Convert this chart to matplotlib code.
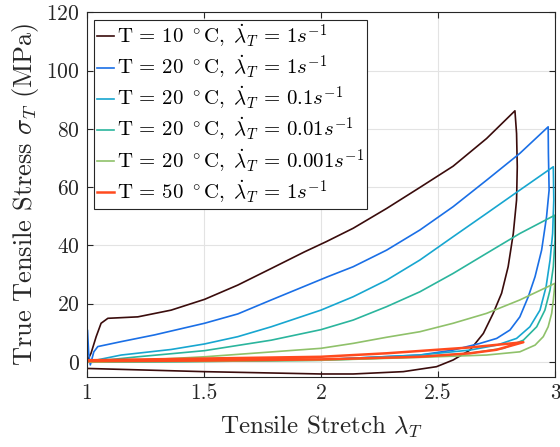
import matplotlib
matplotlib.use("Agg")
import matplotlib.pyplot as plt

plt.rcParams['font.family'] = 'serif'
plt.rcParams['font.serif'] = ['cmr10']
plt.rcParams['mathtext.fontset'] = 'cm'
plt.rcParams['axes.formatter.use_mathtext'] = True

# --- data ---
x_10c_1 = [1.0, 1.018, 1.04, 1.061, 1.09, 1.218, 1.36, 1.503, 1.645, 1.788, 1.93, 2.023, 2.138, 2.281, 2.423,
           2.565, 2.708, 2.829,
           2.836, 2.839, 2.836, 2.822, 2.8, 2.772, 2.736, 2.694, 2.637, 2.565, 2.494, 2.352, 2.138, 2.0, 1.5, 1.0]
y_10c_1 = [0, 3, 8.7, 13.3, 15, 15.5, 17.8, 21.5, 26.4, 32.1, 37.8, 41.3, 45.9, 52.7, 59.9,
           67.2, 76.7, 86.2,
           78.4, 67, 55.6, 44.1, 32.7, 23.6, 16.7, 9.8, 4.1, 0.7, -1.6, -3.3, -4.1, -4.1, -3.3, -2.2]

x_20c_1 = [1.0, 1.003, 1.008, 1.015, 1.03, 1.047, 1.147, 1.289, 1.503, 1.645, 1.788, 2.03, 2.138, 2.281, 2.423,
           2.565, 2.708, 2.85, 2.971,
           2.972, 2.975, 2.964, 2.943, 2.915, 2.886, 2.85, 2.808, 2.751, 2.68, 2.565, 2.423, 2.0, 1.5, 1.05, 1.0]
y_20c_1 = [0, 11, 3, -1, 3.5, 5.3, 7, 9.3, 13.3, 16.5, 21.3, 29.3, 32.7, 38.4, 45.3,
           53.3, 62.4, 71.6, 80.7,
           71.6, 59, 49.8, 38.4, 29.3, 22.4, 15.5, 11, 8.1, 6.4, 4.1, 2.4, 0.8, 0.3, 0.0, 0.0]

x_20c_01 = [1.0, 1.147, 1.36, 1.503, 1.645, 1.788, 2.0, 2.138, 2.281, 2.423, 2.565, 2.708, 2.85, 2.993,
            2.995, 2.99, 2.979, 2.962, 2.936, 2.893, 2.836, 2.751, 2.637, 2.423, 2.0, 1.5, 1.0]
y_20c_01 = [0, 2.4, 4.3, 6.2, 8.7, 12.1, 17.8, 22.4, 28.1, 35, 43, 51, 59, 67,
            55.6, 44.1, 35, 25.8, 17.8, 12.1, 8.1, 5.8, 4.1, 2.4, 0.8, 0.3, 0]

x_20c_001 = [1.0, 1.218, 1.503, 1.788, 2.0, 2.138, 2.281, 2.423, 2.565, 2.708, 2.85, 3.0,
             3.0, 2.993, 2.979, 2.957, 2.922, 2.865, 2.78, 2.637, 2.423, 2.0, 1.5, 1.0]
y_20c_001 = [0, 1.8, 3.9, 7.5, 11.1, 14.4, 19, 24.1, 30.4, 37.3, 44.1, 50.4,
             41.9, 32.7, 24.7, 17.8, 12.1, 7.5, 4.7, 3.0, 1.8, 0.6, 0.2, 0]

x_20c_0001 = [1.0, 1.289, 1.503, 2.0, 2.138, 2.281, 2.423, 2.565, 2.708, 2.85, 3.0,
              2.993, 2.986, 2.971, 2.95, 2.915, 2.85, 2.708, 2.423, 2.0, 1.5, 1.0]
y_20c_0001 = [0, 0.9, 1.8, 4.7, 6.4, 8.5, 10.4, 13.3, 16.7, 21.3, 27.0,
              21.3, 16.7, 12.1, 8.7, 5.8, 3.5, 2.4, 1.6, 0.6, 0.2, 0]

x_50c_1 = [1.0, 1.5, 2.0, 2.281, 2.637, 2.865, 2.75, 2.637, 2.423, 2.0, 1.5, 1.0]
y_50c_1 = [0.6, 1.2, 1.8, 3.0, 5.0, 6.8, 4.2, 3.0, 1.8, 0.9, 0.5, 0.3]

labels = [
    r"$\mathrm{T}\,=\,10\ ^\circ\mathrm{C},\ \dot{\lambda}_T\,=\,1s^{-1}$",
    r"$\mathrm{T}\,=\,20\ ^\circ\mathrm{C},\ \dot{\lambda}_T\,=\,1s^{-1}$",
    r"$\mathrm{T}\,=\,20\ ^\circ\mathrm{C},\ \dot{\lambda}_T\,=\,0.1s^{-1}$",
    r"$\mathrm{T}\,=\,20\ ^\circ\mathrm{C},\ \dot{\lambda}_T\,=\,0.01s^{-1}$",
    r"$\mathrm{T}\,=\,20\ ^\circ\mathrm{C},\ \dot{\lambda}_T\,=\,0.001s^{-1}$",
    r"$\mathrm{T}\,=\,50\ ^\circ\mathrm{C},\ \dot{\lambda}_T\,=\,1s^{-1}$",
]
colors = ["#3a0c0c", "#1a6fe6", "#17a6d0", "#2bb59d", "#8fc16a", "#ff4a1e"]
series = [(x_10c_1, y_10c_1), (x_20c_1, y_20c_1), (x_20c_01, y_20c_01),
          (x_20c_001, y_20c_001), (x_20c_0001, y_20c_0001), (x_50c_1, y_50c_1)]
widths = [1.2, 1.2, 1.2, 1.2, 1.2, 1.8]

fig = plt.figure(figsize=(5.6, 4.47), dpi=100)
ax = fig.add_axes([0.155, 0.1575, 0.836, 0.815])

for (xs, ys), c, lab, lw in zip(series, colors, labels, widths):
    ax.plot(xs, ys, color=c, lw=lw, label=lab, solid_joinstyle="round")

ax.set_xlim(1, 3)
ax.set_ylim(-5, 120)
ax.set_xticks([1, 1.5, 2, 2.5, 3])
ax.set_xticklabels(["1", "1.5", "2", "2.5", "3"])
ax.set_yticks([0, 20, 40, 60, 80, 100, 120])
ax.grid(True, color="#e3e3e3", lw=0.8)
ax.set_axisbelow(True)
ax.tick_params(direction="in", top=True, right=True, labelsize=15.5, length=4, color="#262626",
               labelcolor="#262626", pad=5)
for s in ax.spines.values():
    s.set_color("#262626")
    s.set_linewidth(0.8)

ax.set_xlabel(r"Tensile Stretch $\lambda_T$", fontsize=18, color="#262626", labelpad=8)
ax.set_ylabel(r"True Tensile Stress $\sigma_T$ (MPa)", fontsize=19, color="#262626", labelpad=4)

leg = ax.legend(loc="upper left", fontsize=15, frameon=True, fancybox=False, edgecolor="#262626",
                framealpha=1, handlelength=0.8, handletextpad=0.15, borderpad=0.15,
                labelspacing=0.2, borderaxespad=0.35)
leg.get_frame().set_linewidth(0.8)

fig.savefig("out.png", dpi=100)
